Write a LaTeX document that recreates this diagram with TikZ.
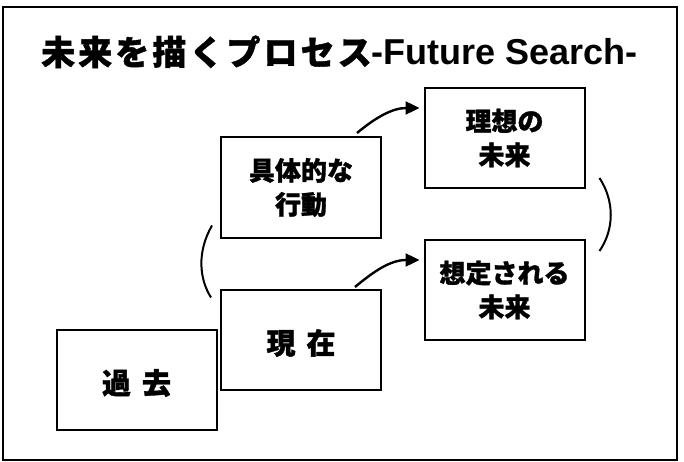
\documentclass[tikz,border=0pt]{standalone}
\usepackage{fontspec}
\usetikzlibrary{arrows.meta}
\newfontfamily\jp{Noto Sans CJK JP}[BoldFeatures={FakeBold=1.2}]
\newfontfamily\lat{Liberation Sans}
\begin{document}
\begin{tikzpicture}[x=1pt,y=-1pt,
  stepbox/.style={draw=black,line width=2pt,minimum width=160pt,minimum height=100pt,inner sep=0pt,align=center,
    font=\jp\bfseries\fontsize{26}{34}\selectfont},
  bigtxt/.style={font=\jp\bfseries\fontsize{29}{34}\selectfont},
  flowarrow/.style={line width=2.4pt,-{Triangle[length=14pt,width=13pt]}},
  bracket/.style={line width=2pt}]
\useasboundingbox (0,0) rectangle (684,462);
\draw[line width=2pt] (3,7) rectangle (677,460);
\node[anchor=base west,inner sep=0pt] (title) at (41,65)
  {{\jp\bfseries\fontsize{34}{36}\selectfont\addfontfeatures{LetterSpace=9}未来を描くプロセス}{\lat\bfseries\fontsize{36}{36}\selectfont -Future Search-}};
\node[stepbox] (past) at (136.5,380) {};
\node[stepbox] (now) at (301,339.5) {};
\node[stepbox] (act) at (301,187.5) {具体的な\\行動};
\node[stepbox] (ideal) at (504.5,138) {理想の\\未来};
\node[stepbox] (expect) at (504.5,290) {想定される\\未来};
\node[bigtxt] (pasttxt) at (136.5,383) {過\hspace{11pt}去};
\node[bigtxt] (nowtxt) at (301,343) {現\hspace{11pt}在};
\coordinate (a1s) at (357,133);
\coordinate (a2s) at (355,287);
\draw[flowarrow] (a1s) .. controls (375,118) and (392,108) .. ([xshift=-4pt,yshift=30pt]ideal.west);
\draw[flowarrow] (a2s) .. controls (373,272) and (390,260) .. ([xshift=-4pt,yshift=30pt]expect.west);
\draw[bracket] ([xshift=-8pt,yshift=13pt]act.south west) .. controls +(-15,26) and +(-12,-19) .. ([xshift=-9pt,yshift=-9pt]now.north west);
\draw[bracket] ([xshift=14pt,yshift=11pt]ideal.south east) .. controls +(15,23) and +(15,-22) .. ([xshift=14pt,yshift=-12pt]expect.north east);
\end{tikzpicture}
\end{document}
